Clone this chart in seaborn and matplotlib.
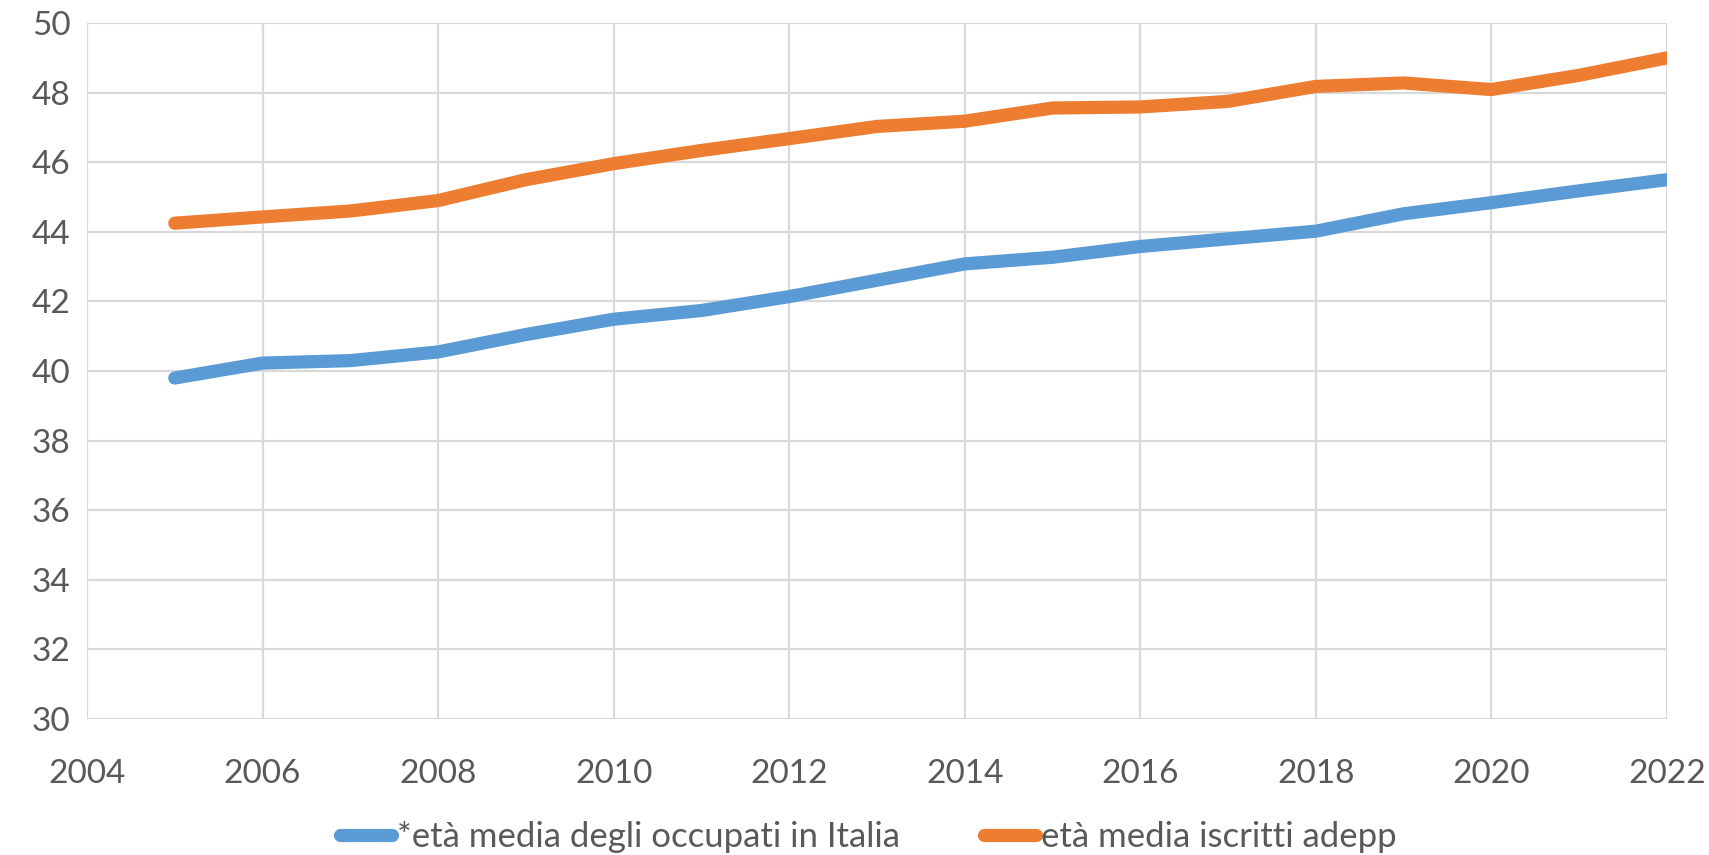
import pandas as pd
import seaborn as sns
import matplotlib.pyplot as plt

# Data
years = list(range(2005, 2023))
occupati_italia = [39.80, 40.23, 40.30, 40.55, 41.05, 41.49, 41.74, 42.14, 42.61,
                   43.08, 43.27, 43.58, 43.80, 44.02, 44.52, 44.84, 45.18, 45.50]
iscritti_adepp = [44.25, 44.43, 44.60, 44.90, 45.50, 45.96, 46.34, 46.68, 47.03,
                  47.18, 47.56, 47.59, 47.75, 48.18, 48.28, 48.09, 48.50, 49.00]
series_names = ['*età media degli occupati in Italia', 'età media iscritti adepp']
x_ticks = list(range(2004, 2023, 2))
y_ticks = list(range(30, 51, 2))

df = pd.DataFrame({'anno': years,
                   series_names[0]: occupati_italia,
                   series_names[1]: iscritti_adepp})
df = df.melt(id_vars='anno', var_name='serie', value_name='eta')

sns.set_style('white')
plt.rcParams['font.family'] = ['Lato', 'DejaVu Sans']

fig = plt.figure(figsize=(17.09, 8.55), dpi=100)
ax = fig.add_axes([0.0509, 0.159, 0.9245, 0.814])

sns.lineplot(data=df, x='anno', y='eta', hue='serie',
             palette=['#5B9BD5', '#ED7D31'], linewidth=9.5,
             solid_capstyle='round', solid_joinstyle='round', ax=ax)

ax.set_xlim(2004, 2022)
ax.set_ylim(30, 50)
ax.set_xticks(x_ticks)
ax.set_yticks(y_ticks)
ax.grid(True, color='#D9D9D9', linewidth=1.6)
ax.set_axisbelow(True)
for s in ax.spines.values():
    s.set_visible(False)
ax.tick_params(axis='both', length=0, labelsize=24, labelcolor='#595959')
ax.tick_params(axis='y', pad=12)
ax.tick_params(axis='x', pad=29)
ax.set_xlabel('')
ax.set_ylabel('')

# legend at the bottom of the figure
handles, labels = ax.get_legend_handles_labels()
ax.get_legend().remove()
leg = fig.legend(handles, labels, loc='center', bbox_to_anchor=(0.508, 0.021),
                 ncol=2, frameon=False, fontsize=25, handlelength=1.5,
                 handletextpad=0.15, columnspacing=2.4, labelcolor='#595959')
for h in leg.get_lines():
    h.set_linewidth(9.5)
    h.set_solid_capstyle('round')

fig.savefig('out.png', dpi=100)
